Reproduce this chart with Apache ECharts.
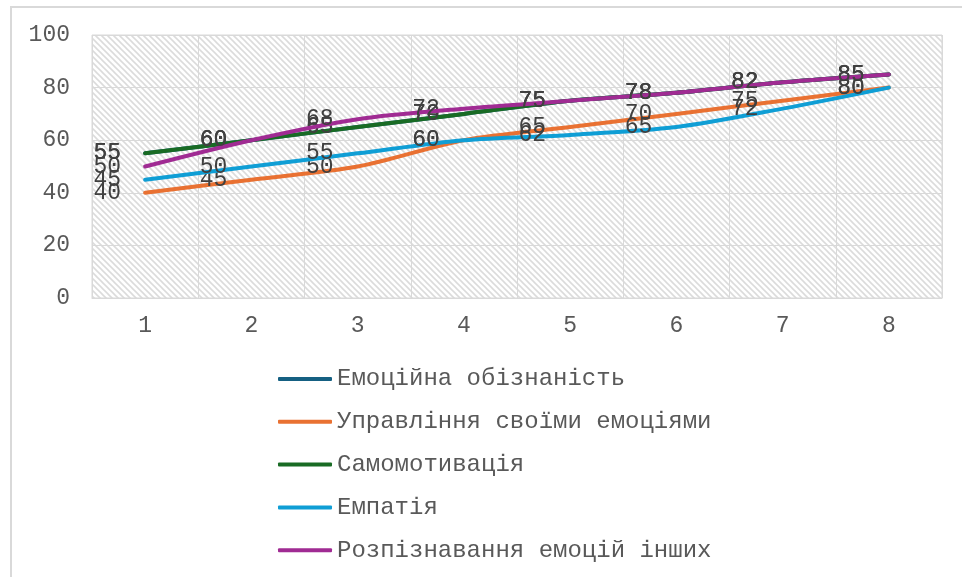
<!DOCTYPE html>
<html>
<head>
<meta charset="utf-8">
<script src="https://cdn.jsdelivr.net/npm/echarts@6/dist/echarts.min.js"></script>
<style>
  html, body { margin: 0; padding: 0; background: #fff; }
  #chart { width: 962px; height: 577px; }
</style>
</head>
<body>
<div id="chart"></div>
<script>
// Categories along the x axis
const categories = ['1', '2', '3', '4', '5', '6', '7', '8'];

// Series names (legend order)
const seriesNames = [
  'Емоційна обізнаність',
  'Управління своїми емоціями',
  'Самомотивація',
  'Емпатія',
  'Розпізнавання емоцій інших'
];

// Values per series
const awareness   = [55, 60, 65, 70, 75, 78, 82, 85];
const management  = [40, 45, 50, 60, 65, 70, 75, 80];
const motivation  = [55, 60, 65, 70, 75, 78, 82, 85];
const empathy     = [45, 50, 55, 60, 62, 65, 72, 80];
const recognition = [50, 60, 68, 72, 75, 78, 82, 85];

// Y axis ticks
const yTicks = [0, 20, 40, 60, 80, 100];

const seriesValues = [awareness, management, motivation, empathy, recognition];
const seriesColors = ['#156082', '#E97132', '#196B24', '#0F9ED5', '#A02B93'];

const FONT = '"Liberation Mono", "Courier New", monospace';

// Diagonal hatch fill for the plot area
function makeHatch() {
  const c = document.createElement('canvas');
  const s = 6;
  c.width = s; c.height = s;
  const ctx = c.getContext('2d');
  ctx.fillStyle = '#ffffff';
  ctx.fillRect(0, 0, s, s);
  ctx.strokeStyle = 'rgba(190,190,190,0.55)';
  ctx.lineWidth = 1.6;
  ctx.beginPath();
  ctx.moveTo(-1, -1); ctx.lineTo(s + 1, s + 1);
  ctx.moveTo(-1, s - 1); ctx.lineTo(1, s + 1);
  ctx.moveTo(s - 1, -1); ctx.lineTo(s + 1, 1);
  ctx.stroke();
  return c;
}

const chart = echarts.init(document.getElementById('chart'), null, { renderer: 'canvas' });

const series = seriesNames.map((name, i) => ({
  name: name,
  type: 'line',
  data: seriesValues[i],
  smooth: 0.3,
  symbol: 'circle',
  symbolSize: 0,
  showSymbol: true,
  lineStyle: { width: 4, color: seriesColors[i], cap: 'round' },
  itemStyle: { color: seriesColors[i] },
  label: {
    show: true,
    position: 'left',
    distance: 24,
    color: '#404040',
    fontFamily: FONT,
    fontSize: 23
  },
  labelLayout: { hideOverlap: false },
  z: 2 + i
}));

chart.setOption({
  animation: false,
  backgroundColor: '#ffffff',
  graphic: [{
    type: 'rect',
    shape: { x: 11, y: 7, width: 1000, height: 700 },
    style: { fill: 'none', stroke: '#d9d9d9', lineWidth: 2 },
    silent: true
  }],
  grid: {
    left: 92, right: 20, top: 35, bottom: 279,
    show: true,
    backgroundColor: { image: makeHatch(), repeat: 'repeat' },
    borderColor: '#d9d9d9',
    borderWidth: 1
  },
  legend: {
    orient: 'vertical',
    left: 278,
    top: 367,
    padding: 0,
    itemWidth: 54,
    itemHeight: 4,
    itemGap: 18.8,
    icon: 'roundRect',
    textStyle: { fontFamily: FONT, fontSize: 24, color: '#595959' },
    data: seriesNames.map((n, i) => ({ name: n, itemStyle: { color: seriesColors[i] } }))
  },
  xAxis: {
    type: 'category',
    data: categories,
    boundaryGap: true,
    axisLine: { show: true, lineStyle: { color: '#d9d9d9', width: 1 } },
    axisTick: { show: false },
    splitLine: { show: true, interval: 0, lineStyle: { color: '#d9d9d9', width: 1 } },
    axisLabel: { color: '#595959', fontFamily: FONT, fontSize: 23, margin: 16 }
  },
  yAxis: {
    type: 'value',
    min: yTicks[0],
    max: yTicks[yTicks.length - 1],
    interval: yTicks[1] - yTicks[0],
    axisLine: { show: false },
    axisTick: { show: false },
    splitLine: { show: true, lineStyle: { color: '#d9d9d9', width: 1 } },
    axisLabel: { color: '#595959', fontFamily: FONT, fontSize: 23, margin: 22 }
  },
  series: series
});
</script>
</body>
</html>
